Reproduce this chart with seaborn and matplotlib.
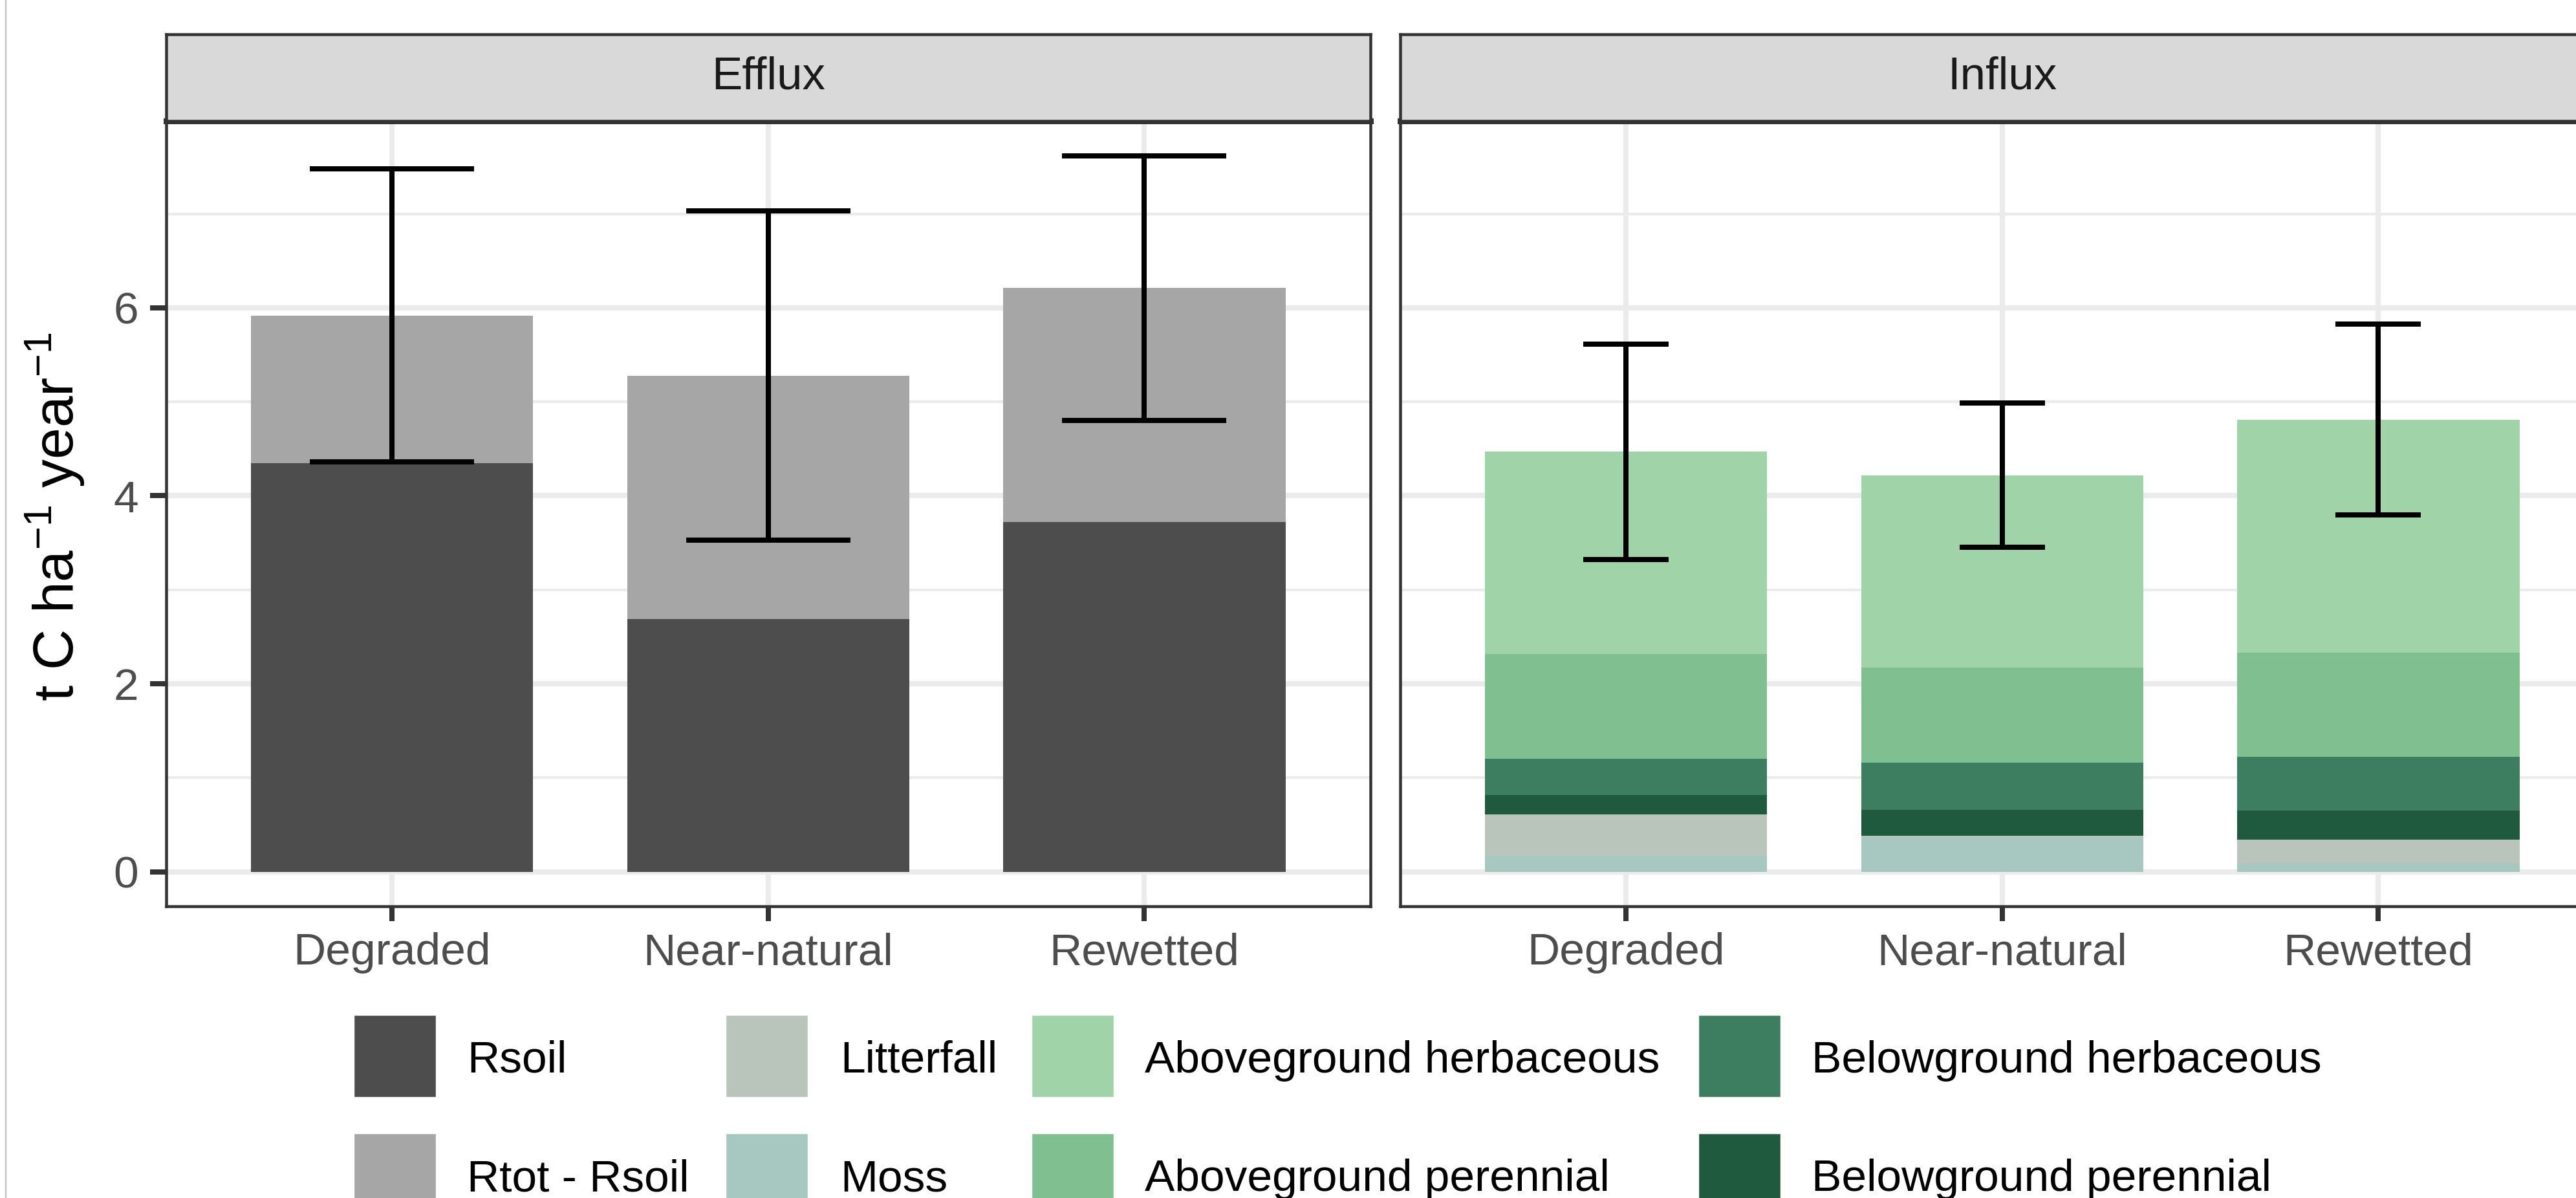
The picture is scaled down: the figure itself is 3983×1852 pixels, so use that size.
import numpy as np
import pandas as pd
import matplotlib
matplotlib.use("Agg")
import matplotlib.pyplot as plt
import seaborn as sns
from matplotlib.patches import Rectangle
from matplotlib.lines import Line2D
from matplotlib.ticker import FixedLocator

# ---------------- data ----------------
sites = ["Degraded", "Near-natural", "Rewetted"]

# Efflux (t C ha-1 year-1)
eff_rsoil = [4.35, 2.69, 3.72]
eff_rtot_minus_rsoil = [1.57, 2.59, 2.49]
eff_err = [1.56, 1.75, 1.41]

# Influx (t C ha-1 year-1), stacked bottom -> top
inf_moss = [0.17, 0.36, 0.09]
inf_litterfall = [0.44, 0.025, 0.25]
inf_bg_perennial = [0.21, 0.275, 0.31]
inf_bg_herbaceous = [0.38, 0.50, 0.575]
inf_ag_perennial = [1.12, 1.01, 1.105]
inf_ag_herbaceous = [2.15, 2.05, 2.48]
inf_err = [1.145, 0.77, 1.015]

legend_labels = ["Rsoil", "Rtot - Rsoil", "Litterfall", "Moss",
                 "Aboveground herbaceous", "Aboveground perennial",
                 "Belowground herbaceous", "Belowground perennial"]
legend_colors = ["#4D4D4D", "#A6A6A6", "#B9C4BB", "#A6C8C1",
                 "#A0D4A8", "#80C090", "#3E7E60", "#1F5A3F"]
col = dict(zip(legend_labels, legend_colors))

# ---------------- style ----------------
sns.set_theme(style="white")
plt.rcParams["font.family"] = ["Liberation Sans", "DejaVu Sans"]
plt.rcParams["mathtext.fontset"] = "custom"
plt.rcParams["mathtext.rm"] = "Liberation Sans"
plt.rcParams["mathtext.default"] = "regular"

W, H = 3983, 1852
DPI = 100
PX = 72.0 / DPI  # points per pixel

fig = plt.figure(figsize=(W / DPI, H / DPI), dpi=DPI)
fig.patch.set_facecolor("white")


def fx(px):
    return px / W


def fy(py):
    return 1 - py / H


panel_top, panel_bot = 187, 1401
panel_w = 2118.5 - 257
y0_px, unit_px = 1347.7, 145.3
ylim = ((y0_px - panel_bot) / unit_px, (y0_px - panel_top) / unit_px)

grid_col = "#EBEBEB"
border_col = "#333333"


def stacked(ax, layers, colors):
    cum = np.cumsum(np.array(layers, dtype=float), axis=0)
    for i in range(len(layers) - 1, -1, -1):
        df = pd.DataFrame({"site": sites, "value": cum[i]})
        sns.barplot(data=df, x="site", y="value", order=sites, color=colors[i],
                    saturation=1, width=0.75, errorbar=None, edgecolor="none",
                    linewidth=0, ax=ax, zorder=2)
    return cum[-1]


def style_panel(ax, left_axis):
    ax.set_xlim(-0.6, 2.6)
    ax.set_ylim(*ylim)
    ax.set_xlabel("")
    ax.set_ylabel("")
    ax.set_facecolor("white")
    ax.set_axisbelow(True)
    ax.set_xticks(range(len(sites)))
    ax.set_xticklabels(sites)
    ax.yaxis.set_major_locator(FixedLocator([0, 2, 4, 6]))
    ax.yaxis.set_minor_locator(FixedLocator([1, 3, 5, 7]))
    ax.grid(False)
    ax.yaxis.grid(True, which="major", color=grid_col, lw=8.3 * PX, zorder=0)
    ax.yaxis.grid(True, which="minor", color=grid_col, lw=4.2 * PX, zorder=0)
    ax.xaxis.grid(True, which="major", color=grid_col, lw=8.3 * PX, zorder=0)
    for s in ax.spines.values():
        s.set_visible(True)
        s.set_color(border_col)
        s.set_linewidth(4.5 * PX)
        s.set_zorder(5)
    ax.spines["top"].set_linewidth(9 * PX)
    ax.tick_params(axis="x", which="major", length=17 * PX * 1.389 * 0.72 / 0.72 if False else 23 * PX,
                   width=8 * PX, color=border_col, labelsize=50, labelcolor="#4D4D4D",
                   pad=12.5, bottom=True)
    ax.tick_params(axis="y", which="minor", length=0, left=False)
    if left_axis:
        ax.tick_params(axis="y", which="major", length=25 * PX, width=8 * PX,
                       color=border_col, labelsize=50, labelcolor="#4D4D4D",
                       pad=13, left=True)
    else:
        ax.tick_params(axis="y", which="major", length=0, left=False, labelleft=False)


def strip(left_px, label):
    sax = fig.add_axes([fx(left_px), fy(panel_top), panel_w / W, (panel_top - 53) / H])
    sax.set_facecolor("#D9D9D9")
    sax.set_xticks([])
    sax.set_yticks([])
    for s in sax.spines.values():
        s.set_visible(True)
        s.set_color(border_col)
        s.set_linewidth(4.5 * PX)
    sax.text(0.5, 0.5, label, transform=sax.transAxes, ha="center", va="center",
             fontsize=51, color="#1A1A1A")


# ---------------- Efflux panel ----------------
ax_e = fig.add_axes([fx(257), fy(panel_bot), panel_w / W, (panel_bot - panel_top) / H])
tot_e = stacked(ax_e, [eff_rsoil, eff_rtot_minus_rsoil],
                [col["Rsoil"], col["Rtot - Rsoil"]])
ax_e.errorbar(x=np.arange(len(sites)), y=tot_e, yerr=eff_err, fmt="none",
              ecolor="black", elinewidth=8 * PX, capsize=127 * PX,
              capthick=8 * PX, zorder=4)
style_panel(ax_e, True)
strip(257, "Efflux")

# ---------------- Influx panel ----------------
ax_i = fig.add_axes([fx(2165), fy(panel_bot), panel_w / W, (panel_bot - panel_top) / H])
tot_i = stacked(ax_i,
                [inf_moss, inf_litterfall, inf_bg_perennial, inf_bg_herbaceous,
                 inf_ag_perennial, inf_ag_herbaceous],
                [col["Moss"], col["Litterfall"], col["Belowground perennial"],
                 col["Belowground herbaceous"], col["Aboveground perennial"],
                 col["Aboveground herbaceous"]])
ax_i.errorbar(x=np.arange(len(sites)), y=tot_i, yerr=inf_err, fmt="none",
              ecolor="black", elinewidth=8 * PX, capsize=66 * PX,
              capthick=8 * PX, zorder=4)
style_panel(ax_i, False)
strip(2165, "Influx")

# ---------------- y-axis title ----------------
fig.text(fx(86), fy(799), r"t C ha$^{-1}$ year$^{-1}$", rotation=90,
         ha="center", va="center", fontsize=63, color="black")

# ---------------- legend (bottom, 2 rows x 4 columns) ----------------
key_x = [546.6, 1122, 1595, 2626]
text_x = [722, 1299.6, 1770.5, 2801]
row_top = [1569, 1752]
key = 127
for i, (lab, c) in enumerate(zip(legend_labels, legend_colors)):
    ci, ri = i // 2, i % 2
    fig.add_artist(Rectangle((fx(key_x[ci]), fy(row_top[ri] + key)), key / W, key / H,
                             transform=fig.transFigure, facecolor=c, edgecolor="white",
                             linewidth=1.0))
    fig.text(fx(text_x[ci]), fy(row_top[ri] + key / 2 + 25.5), lab, ha="left",
             va="baseline", fontsize=50, color="black")

# page border line at the left edge
fig.add_artist(Line2D([fx(8.5), fx(8.5)], [0, 1], transform=fig.transFigure,
                      color="#C4C4C4", lw=2.5 * PX))

fig.savefig("out.png", dpi=DPI, facecolor="white")
